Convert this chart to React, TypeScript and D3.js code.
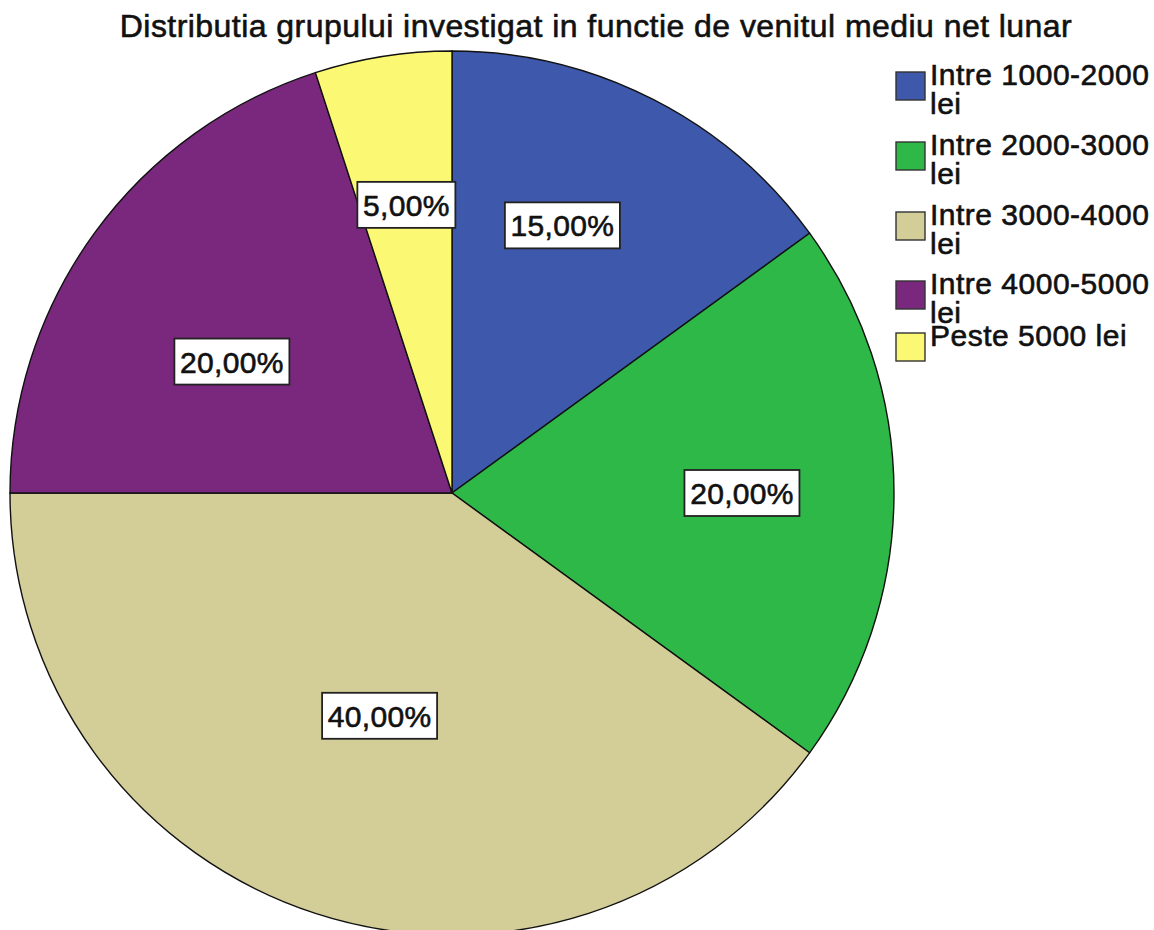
import React from "react";
import * as d3 from "d3";

const categories = [
  "Intre 1000-2000 lei",
  "Intre 2000-3000 lei",
  "Intre 3000-4000 lei",
  "Intre 4000-5000 lei",
  "Peste 5000 lei",
];
const legendLines = [
  ["Intre 1000-2000", "lei"],
  ["Intre 2000-3000", "lei"],
  ["Intre 3000-4000", "lei"],
  ["Intre 4000-5000", "lei"],
  ["Peste 5000 lei"],
];
const percentages = [15, 20, 40, 20, 5];
const colors = ["#3E58AC", "#2EB848", "#D3CE97", "#7A287D", "#FBF873"];
const title = "Distributia grupului investigat in functie de venitul mediu net lunar";

// layout (not data)
const W = 1154;
const H = 930;
const CX = 452;
const CY = 493;
const R = 442;
const labelRadiusFactor = [0.655, 0.656, 0.53, 0.58, 0.66];
const labelAngleShift = [-0.08, 0.0, 0.0, -0.09, 0.0];
const legendTops = [72, 142, 212, 281, 333];

const FONT = "'Liberation Sans', Arial, sans-serif";

export default function App() {
  const pie = d3.pie<number>().sort(null).value((d) => d);
  const arcs = pie(percentages);
  const arcGen = d3.arc<d3.PieArcDatum<number>>().innerRadius(0).outerRadius(R);
  const fmt = (v: number) => d3.format(".2f")(v).replace(".", ",") + "%";

  return (
    <svg
      width={W}
      height={H}
      style={{ position: "absolute", left: 0, top: 0, background: "#fff" }}
      fontFamily={FONT}
    >
      <text
        x={596}
        y={37}
        textAnchor="middle"
        fontSize={32}
        letterSpacing={0.45}
        fill="#111"
        stroke="#111"
        strokeWidth={0.6}
      >
        {title}
      </text>
      <g transform={`translate(${CX},${CY})`}>
        {arcs.map((a, i) => (
          <path key={i} d={arcGen(a) || ""} fill={colors[i]} stroke="#111" strokeWidth={1.4} />
        ))}
        {arcs.map((a, i) => {
          const mid = (a.startAngle + a.endAngle) / 2 + labelAngleShift[i];
          const r = R * labelRadiusFactor[i];
          const x = Math.sin(mid) * r;
          const y = -Math.cos(mid) * r;
          const txt = fmt(a.data);
          const w = txt.length === 5 ? 98 : 115;
          const h = 46;
          return (
            <g key={"l" + i} transform={`translate(${x},${y})`}>
              <rect
                x={-w / 2}
                y={-h / 2}
                width={w}
                height={h}
                fill="#fff"
                stroke="#222"
                strokeWidth={1.8}
              />
              <text
                x={0}
                y={11}
                textAnchor="middle"
                fontSize={30}
                letterSpacing={0.3}
                fill="#111"
                stroke="#111"
                strokeWidth={0.6}
              >
                {txt}
              </text>
            </g>
          );
        })}
      </g>
      <g>
        {legendLines.map((lines, i) => {
          const top = legendTops[i];
          return (
            <g key={"lg" + i}>
              <rect x={896} y={top} width={29} height={28} fill={colors[i]} stroke="#333" strokeWidth={1.4} />
              {lines.map((ln, j) => (
                <text
                  key={j}
                  x={930}
                  y={top + 13 + j * 29}
                  fontSize={30}
                  letterSpacing={0.5}
                  fill="#111"
                  stroke="#111"
                  strokeWidth={0.6}
                >
                  {ln}
                </text>
              ))}
            </g>
          );
        })}
      </g>
    </svg>
  );
}
